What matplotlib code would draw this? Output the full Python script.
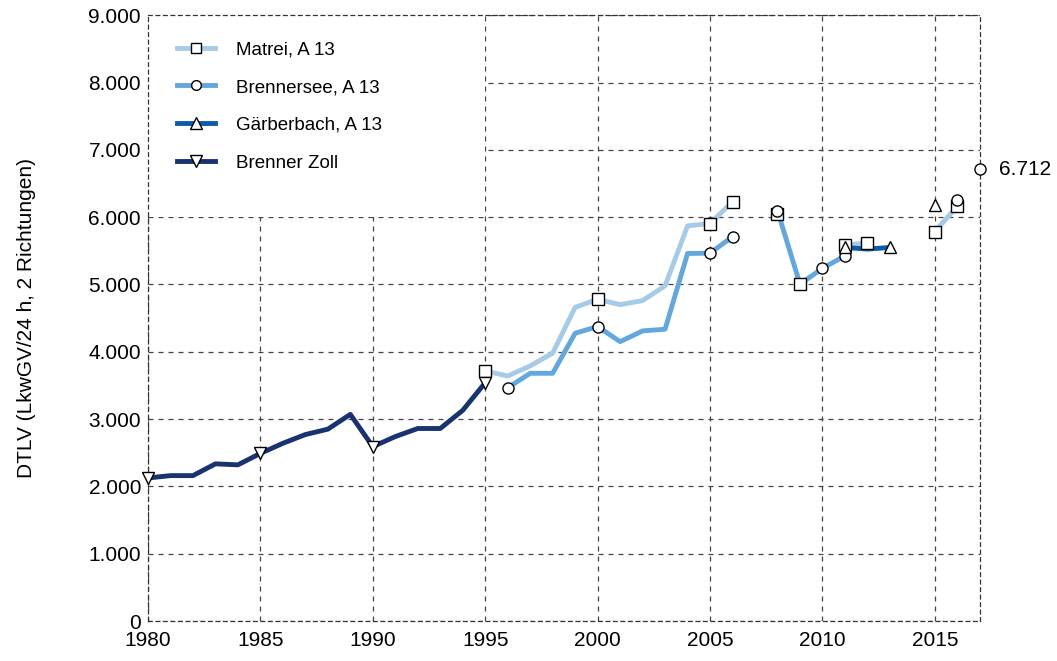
import numpy as np
from matplotlib import pyplot as plt
from matplotlib.patches import Rectangle
from matplotlib.lines import Line2D
from matplotlib.ticker import FuncFormatter

plt.rcParams['font.family'] = ['Liberation Sans', 'DejaVu Sans']

nan = np.nan

# DTLV values per station (NaN = no data)
zoll_years = list(range(1980, 1996))
zoll_vals = [2125, 2160, 2160, 2335, 2320, 2490, 2640, 2770, 2850, 3070,
             2590, 2740, 2860, 2860, 3130, 3540]
zoll_marks = [1980, 1985, 1990, 1995]

matrei_years = list(range(1995, 2013))
matrei_vals = [3715, 3640, 3790, 3980, 4660, 4780, 4700, 4760, 4980, 5870,
               5905, 6230, nan, nan, nan, nan, 5580, 5620]
matrei_marks = [1995, 2000, 2005, 2006, 2011, 2012]
# isolated Matrei points (no connecting line)
matrei_pts_years = [2008, 2009]
matrei_pts_vals = [6050, 5005]
matrei_late_years = [2015, 2016]
matrei_late_vals = [5785, 6165]

brenn_years = list(range(1996, 2012))
brenn_vals = [3465, 3680, 3680, 4275, 4375, 4150, 4310, 4335, 5460, 5465,
              5710, nan, 6095, 5005, 5240, 5425]
brenn_marks = [1996, 2000, 2005, 2006, 2008, 2010, 2011]
brenn_pts_years = [2016, 2017]
brenn_pts_vals = [6255, 6712]

gaerb_years = [2011, 2012, 2013]
gaerb_vals = [5550, 5525, 5550]
gaerb_marks = [2011, 2013]
gaerb_pts_years = [2015]
gaerb_pts_vals = [6180]

c_matrei = '#a6cbe7'
c_brenn = '#63a7dd'
c_gaerb = '#0a5ca8'
c_zoll = '#18336f'

fig, ax = plt.subplots(figsize=(10.57, 6.61), dpi=100)
fig.subplots_adjust(left=0.14, right=0.927, top=0.977, bottom=0.0605)

mk = dict(markerfacecolor='white', markeredgecolor='black', markeredgewidth=1.0,
          markersize=8, linestyle='none', zorder=5, clip_on=False)


def draw(yrs, vals, marks, color, marker, ms=8):
    yrs = np.array(yrs)
    vals = np.array(vals, dtype=float)
    ax.plot(yrs, vals, color=color, lw=3.5, zorder=3, solid_capstyle='butt')
    sel = np.isin(yrs, marks)
    ax.plot(yrs[sel], vals[sel], marker=marker, **dict(mk, markersize=ms))


draw(matrei_years, matrei_vals, matrei_marks, c_matrei, 's')
draw(matrei_late_years, matrei_late_vals, matrei_late_years, c_matrei, 's')
ax.plot(matrei_pts_years, matrei_pts_vals, marker='s', **mk)
draw(brenn_years, brenn_vals, brenn_marks, c_brenn, 'o')
ax.plot(brenn_pts_years, brenn_pts_vals, marker='o', **mk)
draw(gaerb_years, gaerb_vals, gaerb_marks, c_gaerb, '^', ms=9)
ax.plot(gaerb_pts_years, gaerb_pts_vals, marker='^', **dict(mk, markersize=9))
draw(zoll_years, zoll_vals, zoll_marks, c_zoll, 'v', ms=9)

ax.annotate('6.712', xy=(brenn_pts_years[-1], brenn_pts_vals[-1]), xytext=(14, 0),
            textcoords='offset points', va='center', ha='left', fontsize=15)

ax.set_xlim(1980, 2017)
ax.set_ylim(0, 9000)
ax.set_xticks(range(1980, 2016, 5))
ax.set_yticks(range(0, 9001, 1000))
ax.yaxis.set_major_formatter(FuncFormatter(lambda v, p: f'{int(v):,}'.replace(',', '.')))
ax.tick_params(length=0, labelsize=15)
ax.tick_params(axis='x', pad=7)
ax.tick_params(axis='y', pad=5)
ax.set_ylabel('DTLV (LkwGV/24 h, 2 Richtungen)', fontsize=15, labelpad=38)

ax.set_axisbelow(True)
ax.grid(True, color='#444444', linestyle=(0, (4, 4)), lw=0.9)
for s in ax.spines.values():
    s.set_linestyle((0, (3, 3)))
    s.set_linewidth(0.9)
    s.set_color('#333333')

# white box behind the legend hides the grid there
ax.add_patch(Rectangle((1980, 6000), 15, 3000, facecolor='white', edgecolor='none', zorder=1))

handles = [
    Line2D([], [], color=c_matrei, lw=3.5, marker='s', markerfacecolor='white',
           markeredgecolor='black', markersize=7),
    Line2D([], [], color=c_brenn, lw=3.5, marker='o', markerfacecolor='white',
           markeredgecolor='black', markersize=7),
    Line2D([], [], color=c_gaerb, lw=3.5, marker='^', markerfacecolor='white',
           markeredgecolor='black', markersize=8),
    Line2D([], [], color=c_zoll, lw=3.5, marker='v', markerfacecolor='white',
           markeredgecolor='black', markersize=8),
]
labels = ['Matrei, A 13', 'Brennersee, A 13', 'Gärberbach, A 13', 'Brenner Zoll']
ax.legend(handles, labels, loc='upper left', bbox_to_anchor=(0.015, 0.985),
          frameon=False, fontsize=13.5, numpoints=1, handlelength=2.0,
          handletextpad=1.15, labelspacing=1.1)

fig.savefig('out.png', dpi=100)
